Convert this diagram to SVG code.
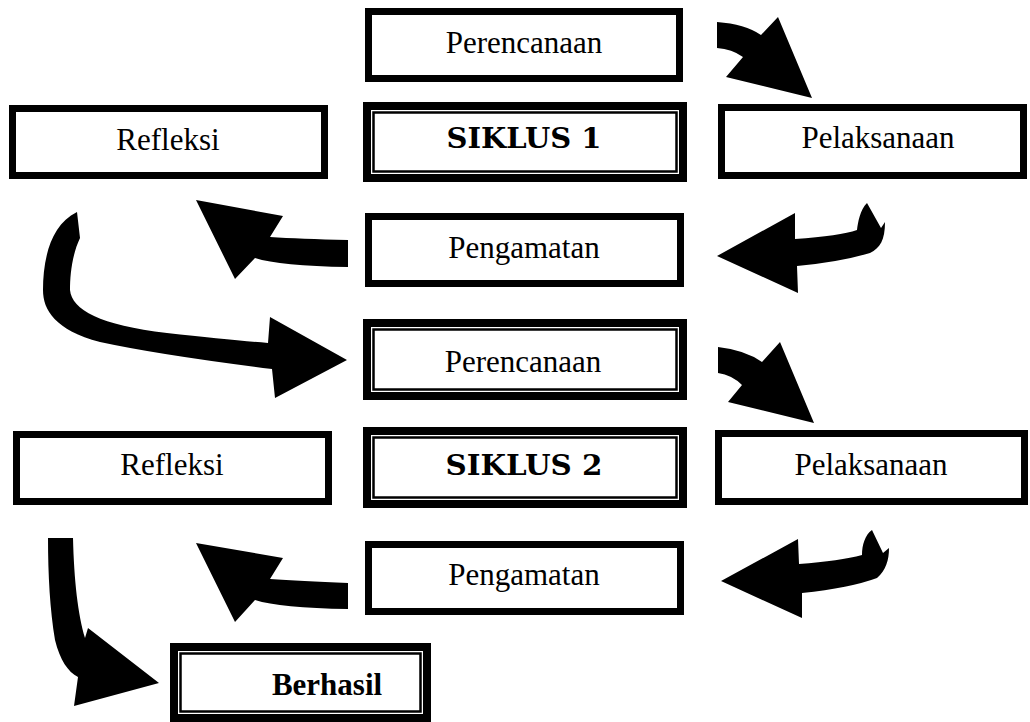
<svg xmlns="http://www.w3.org/2000/svg" width="1030" height="722" viewBox="0 0 1030 722">
<style>
.box{fill:#fff;stroke:#000;stroke-width:7}
.outer{fill:#fff;stroke:#000;stroke-width:8}
.inner{fill:none;stroke:#000;stroke-width:2.5}
.t{font-family:"Liberation Serif","Times New Roman",serif;font-size:31px;fill:#000;text-anchor:middle}
.b{font-weight:bold}
.s{font-family:"DejaVu Serif","Liberation Serif",serif;font-size:27px;font-weight:bold;fill:#000;text-anchor:middle}
.arrow{fill:#000;stroke:none}
</style>
<rect width="1030" height="722" fill="#fff"/>
<g id="connectors">
<path class="arrow" d="M717,22 Q745,24 761,35 L778,17 L812,98 L726,77 L743,57 Q732,49 717,48 Z"/>
<path class="arrow" d="M717,256 L795,213 L795,239 Q840,236 857,230 C858,222 860,210 867,203 L881,228 L885,222 C885,240 880,248 870,253 Q840,262 797,266 L798,293 Z"/>
<path class="arrow" d="M348,240 Q300,239 270,237 L283,216 L196,200 L235,279 L255,258 Q280,266 348,267 Z"/>
<path class="arrow" d="M77,212 L80,238 C72,255 70,275 70,290 C72,310 100,325 167,333 Q230,340 268,343 L270,317 L347,360 L275,398 L272,369 Q160,355 100,342 C55,330 43,310 43,290 C43,260 50,225 77,212 Z"/>
<path class="arrow" d="M718,347 Q745,350 762,362 L780,342 L814,423 L728,402 L742,385 Q732,375 718,373 Z"/>
<path class="arrow" d="M721,581 L798,539 L799,564 Q840,561 862,555 C862,545 865,535 872,530 L883,553 L889,548 C889,560 886,570 877,578 Q850,588 802,593 L802,618 Z"/>
<path class="arrow" d="M348,583 Q300,581 270,579 L283,558 L196,543 L235,622 L255,600 Q280,608 348,609 Z"/>
<path class="arrow" d="M48,538 L73,538 C74,580 78,615 85,638 L88,628 L159,683 L74,706 L78,677 C68,672 60,660 55,640 C50,610 48,575 48,538 Z"/>
</g>
<g id="perencanaan1">
<rect class="box" x="368.5" y="11.5" width="311" height="67"/>
<text class="t" x="524" y="53">Perencanaan</text>
</g>
<g id="siklus1">
<rect class="outer" x="367" y="106" width="316" height="72"/>
<rect class="inner" x="373.5" y="112.5" width="303" height="59"/>
<text class="s" x="524" y="148" textLength="155" lengthAdjust="spacingAndGlyphs">SIKLUS 1</text>
</g>
<g id="refleksi1">
<rect class="box" x="12.5" y="108.5" width="312" height="67"/>
<text class="t" x="168" y="150">Refleksi</text>
</g>
<g id="pelaksanaan1">
<rect class="box" x="721.5" y="107.5" width="302" height="68"/>
<text class="t" x="878" y="148">Pelaksanaan</text>
</g>
<g id="pengamatan1">
<rect class="box" x="368.5" y="216.5" width="312" height="67"/>
<text class="t" x="524" y="258">Pengamatan</text>
</g>
<g id="perencanaan2">
<rect class="outer" x="367" y="323" width="316" height="73"/>
<rect class="inner" x="373.5" y="329.5" width="303" height="60"/>
<text class="t" x="523" y="372">Perencanaan</text>
</g>
<g id="siklus2">
<rect class="outer" x="367" y="431" width="316" height="73"/>
<rect class="inner" x="373.5" y="437.5" width="303" height="60"/>
<text class="s" x="524" y="475" textLength="157" lengthAdjust="spacingAndGlyphs">SIKLUS 2</text>
</g>
<g id="refleksi2">
<rect class="box" x="16.5" y="434.5" width="312" height="67"/>
<text class="t" x="172" y="475">Refleksi</text>
</g>
<g id="pelaksanaan2">
<rect class="box" x="718.5" y="433.5" width="306" height="68"/>
<text class="t" x="871" y="475">Pelaksanaan</text>
</g>
<g id="pengamatan2">
<rect class="box" x="368.5" y="544.5" width="312" height="67"/>
<text class="t" x="524" y="585">Pengamatan</text>
</g>
<g id="berhasil">
<rect class="outer" x="174" y="647" width="253" height="71"/>
<rect class="inner" x="180.5" y="653.5" width="240" height="58"/>
<text class="t b" x="327" y="695">Berhasil</text>
</g>
</svg>
